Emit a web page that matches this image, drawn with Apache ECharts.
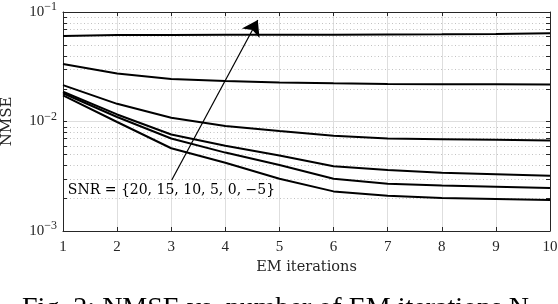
<!DOCTYPE html>
<html>
<head>
<meta charset="utf-8">
<script src="https://cdn.jsdelivr.net/npm/echarts@6/dist/echarts.min.js"></script>
<style>
html,body{margin:0;padding:0;background:#fff;}
#c{width:558px;height:304px;}
</style>
</head>
<body>
<div id="c"></div>
<script>
// ---- data ----
const iterations = [1, 2, 3, 4, 5, 6, 7, 8, 9, 10];
const nmseSnrM5 = [0.0605, 0.0615, 0.0618, 0.0619, 0.062, 0.062, 0.0622, 0.0625, 0.063, 0.0638];
const nmseSnr0  = [0.0335, 0.0275, 0.0244, 0.0234, 0.0227, 0.0223, 0.0220, 0.0219, 0.0219, 0.0218];
const nmseSnr5  = [0.0215, 0.0145, 0.0108, 0.0091, 0.0082, 0.0074, 0.0070, 0.0069, 0.0068, 0.0067];
const nmseSnr10 = [0.0187, 0.0116, 0.0076, 0.0060, 0.0049, 0.0039, 0.0036, 0.0034, 0.0033, 0.0032];
const nmseSnr15 = [0.0181, 0.0110, 0.0070, 0.0052, 0.0040, 0.0030, 0.0027, 0.0026, 0.00254, 0.00247];
const nmseSnr20 = [0.0173, 0.0099, 0.0057, 0.0042, 0.0030, 0.0023, 0.0021, 0.0020, 0.00196, 0.00192];
const minorTickValues = [0.002,0.003,0.004,0.005,0.006,0.007,0.008,0.009,
                         0.02,0.03,0.04,0.05,0.06,0.07,0.08,0.09];
const arrowStart = [3.01, 0.00292];
const arrowEnd = [4.60, 0.0845];
const annotationText = 'SNR = {20, 15, 10, 5, 0, \u22125}';
const annotationAt = [1.09, 0.00227];
const xAxisTitle = 'EM iterations';
const yAxisTitle = 'NMSE';
const captionText = 'Fig. 2: NMSE vs. number of EM iterations N';

const AX = '#262626';
const SERIF_W = 'DejaVu Serif';
const SERIF_D = 'Liberation Serif';

const seriesList = [nmseSnrM5, nmseSnr0, nmseSnr5, nmseSnr10, nmseSnr15, nmseSnr20];

const chart = echarts.init(document.getElementById('c'), null, {renderer: 'canvas'});

function expLabel(v) {
  const e = Math.round(Math.log10(v));
  return '{b|10}{s|' + (e < 0 ? '\u2212' + (-e) : e) + '}';
}

const lineSeries = seriesList.map((arr, i) => ({
  type: 'line',
  xAxisIndex: 0, yAxisIndex: 0,
  data: iterations.map((x, j) => [x, arr[j]]),
  symbol: 'none',
  lineStyle: {color: '#000', width: 2},
  z: 5,
  silent: true,
  animation: false
}));

// arrow via markLine on the first series
lineSeries[0].markLine = {
  silent: true,
  symbol: ['none', 'arrow'],
  symbolSize: 15,
  label: {show: false},
  lineStyle: {color: '#000', width: 1.2, type: 'solid'},
  itemStyle: {color: '#000'},
  data: [[{coord: arrowStart}, {coord: arrowEnd}]],
  animation: false
};

const minorSeries = {
  type: 'custom',
  xAxisIndex: 0, yAxisIndex: 0,
  silent: true,
  z: 1,
  animation: false,
  clip: false,
  data: minorTickValues.map(v => [iterations[0], v]),
  renderItem: function (params, api) {
    const v = api.value(1);
    const l = api.coord([iterations[0], v]);
    const r = api.coord([iterations[iterations.length - 1], v]);
    const y = Math.round(l[1]) + 0.5;
    return {
      type: 'group',
      children: [
        {type: 'line', shape: {x1: l[0], y1: y, x2: r[0], y2: y},
         style: {stroke: '#c2c2c2', lineWidth: 1, lineDash: [1, 2.5]}},
        {type: 'line', shape: {x1: l[0], y1: y, x2: l[0] + 4, y2: y},
         style: {stroke: AX, lineWidth: 1}},
        {type: 'line', shape: {x1: r[0] - 4, y1: y, x2: r[0], y2: y},
         style: {stroke: AX, lineWidth: 1}}
      ]
    };
  }
};

const option = {
  backgroundColor: '#fff',
  animation: false,
  grid: {left: 63, right: 8, top: 12, bottom: 73, containLabel: false, outerBoundsMode: 'none'},
  xAxis: [
    {
      type: 'value', position: 'bottom', min: 1, max: 10, interval: 1,
      name: xAxisTitle, nameLocation: 'middle', nameGap: 29,
      nameTextStyle: {fontFamily: SERIF_W, fontSize: 14.5, color: AX},
      axisLine: {show: true, lineStyle: {color: AX, width: 1}},
      axisTick: {show: true, inside: true, length: 4, lineStyle: {color: AX}},
      axisLabel: {fontFamily: SERIF_D, fontSize: 15, color: AX, margin: 9},
      splitLine: {show: true, lineStyle: {color: '#dedede', width: 1}}
    },
    {
      type: 'value', position: 'top', min: 1, max: 10, interval: 1,
      axisLine: {show: true, lineStyle: {color: AX, width: 1}},
      axisTick: {show: true, inside: true, length: 4, lineStyle: {color: AX}},
      axisLabel: {show: false},
      splitLine: {show: false}
    }
  ],
  yAxis: [
    {
      type: 'log', logBase: 10, min: 0.001, max: 0.1, position: 'left',
      name: yAxisTitle, nameLocation: 'middle', nameGap: 48,
      nameTextStyle: {fontFamily: SERIF_W, fontSize: 15, color: AX},
      axisLine: {show: true, lineStyle: {color: AX, width: 1}},
      axisTick: {show: true, inside: true, length: 4, lineStyle: {color: AX}},
      axisLabel: {
        margin: 6,
        formatter: expLabel,
        rich: {
          b: {fontFamily: SERIF_D, fontSize: 15, color: AX, lineHeight: 22, verticalAlign: 'middle'},
          s: {fontFamily: SERIF_D, fontSize: 12, color: AX, lineHeight: 13, verticalAlign: 'top'}
        }
      },
      splitLine: {show: true, lineStyle: {color: '#dedede', width: 1}}
    },
    {
      type: 'log', logBase: 10, min: 0.001, max: 0.1, position: 'right',
      axisLine: {show: true, lineStyle: {color: AX, width: 1}},
      axisTick: {show: true, inside: true, length: 4, lineStyle: {color: AX}},
      axisLabel: {show: false},
      splitLine: {show: false}
    }
  ],
  series: [minorSeries].concat(lineSeries)
};

chart.setOption(option);

function placeGraphics() {
  const p = chart.convertToPixel({xAxisIndex: 0, yAxisIndex: 0}, annotationAt);
  chart.setOption({
    graphic: [
      {
        type: 'text', left: p[0], top: p[1] - 9, z: 10, silent: true,
        style: {text: annotationText, fontFamily: SERIF_W, fontSize: 14, fill: '#000'}
      },
      {
        type: 'text', left: 22, top: 295, z: 10, silent: true,
        style: {text: captionText, fontFamily: SERIF_D, fontSize: 28, fill: '#000'}
      }
    ]
  });
}
placeGraphics();
</script>
</body>
</html>
